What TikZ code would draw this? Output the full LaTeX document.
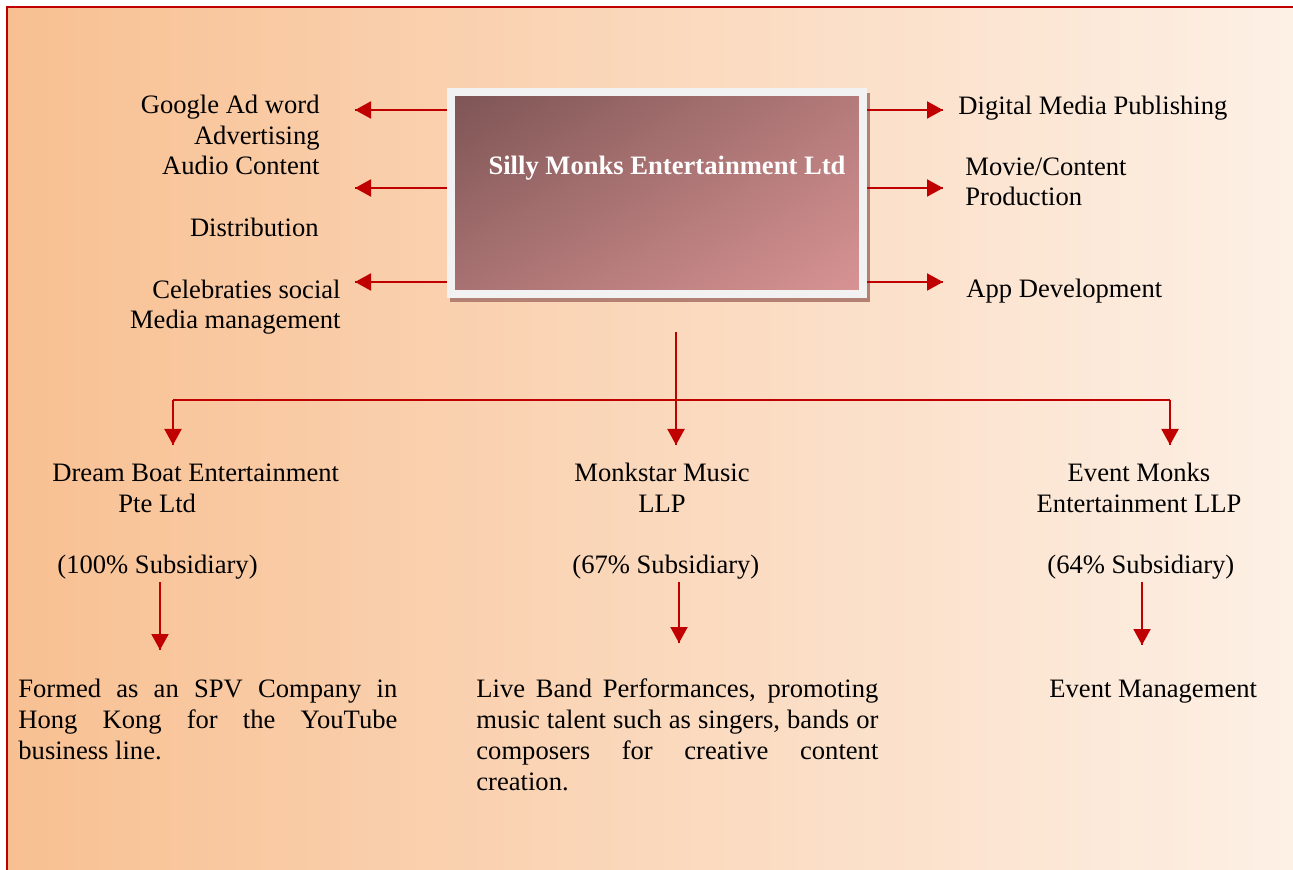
\documentclass[tikz,border=0pt]{standalone}
\usepackage{fontspec}
\setmainfont{Liberation Serif}
\usetikzlibrary{arrows.meta}
\usetikzlibrary{decorations.markings}
\usetikzlibrary{shadings}
\usetikzlibrary{positioning}
\definecolor{linered}{HTML}{C00000}
\definecolor{bgleft}{HTML}{F8C092}
\definecolor{bgright}{HTML}{FDF1E7}
\definecolor{boxrim}{HTML}{F2F2F2}
\definecolor{boxshadow}{HTML}{B38074}
\definecolor{boxul}{HTML}{7D5454}
\definecolor{boxur}{HTML}{B47A7A}
\definecolor{boxll}{HTML}{A97272}
\definecolor{boxlr}{HTML}{D99494}
\tolerance=10000
\emergencystretch=4em
\hyphenpenalty=10000
\tikzset{->/.style = {decoration={markings,
                                  mark=at position 1 with {\arrow{Triangle[width=8.5pt,length=8pt]}}},
                      postaction={decorate}}}
\tikzset{
redline/.style={draw=linered, color=linered, line width=1pt},
txt/.style={inner sep=0pt, font=\fontsize{13.3}{15.3}\selectfont},
para/.style={inner sep=0pt, align=justify, anchor=base west, font=\fontsize{13.3}{15.5}\selectfont},
title/.style={inner sep=0pt, anchor=base, text=white, font=\fontsize{13.3}{15.3}\selectfont\bfseries},
mainbox/.style={draw=boxrim, line width=4pt, minimum width=206pt, minimum height=101pt, inner sep=0pt,
                upper left=boxul, upper right=boxur, lower left=boxll, lower right=boxlr},
}

\begin{document}
\begin{tikzpicture}[x=0.5pt, y=-0.5pt]
	\useasboundingbox (0,0) rectangle (1293,870);
	\clip (0,0) rectangle (1293,870);
	\fill[left color=bgleft, right color=bgright] (7,7) rectangle (1320,890);
	\draw[linered, line width=1.25pt] (7,7) rectangle (1320,890);
	\fill[boxshadow] (450,93) rectangle (870,302);
	\node[mainbox] (main) at (657,193) {};
	\node[title] (name) at (667,175) {Silly Monks Entertainment Ltd};
	\node[txt, anchor=base east, align=right] (ads) at (320,175) {Google Ad word\\Advertising\\Audio Content};
	\node[txt, anchor=base east] (dist) at (319,237) {Distribution};
	\node[txt, anchor=base east, align=right] (celeb) at (341,329) {Celebraties social\\Media management};
	\node[txt, anchor=base west] (digital) at (958,115) {Digital Media Publishing};
	\node[txt, anchor=base west, align=left] (movie) at (965,206) {Movie/Content\\Production};
	\node[txt, anchor=base west] (app) at (966,298) {App Development};
	\coordinate (l1) at (355,110);
	\coordinate (l2) at (355,188);
	\coordinate (l3) at (355,282);
	\coordinate (r1) at (943,110);
	\coordinate (r2) at (943,188);
	\coordinate (r3) at (943,282);
	\draw[redline, ->] (main.west |- l1) to (l1);
	\draw[redline, ->] (main.west |- l2) to (l2);
	\draw[redline, ->] (main.west |- l3) to (l3);
	\draw[redline, ->] (main.east |- r1) to (r1);
	\draw[redline, ->] (main.east |- r2) to (r2);
	\draw[redline, ->] (main.east |- r3) to (r3);
	\coordinate (trunk) at (676,332);
	\coordinate (bar) at (676,400);
	\coordinate (t1) at (173,445);
	\coordinate (t2) at (676,445);
	\coordinate (t3) at (1170,445);
	\draw[redline] (t1 |- bar) to (t3 |- bar);
	\draw[redline, ->] (trunk) to (t2);
	\draw[redline, ->] (t1 |- bar) to (t1);
	\draw[redline, ->] (t3 |- bar) to (t3);
	\node[txt, anchor=base west, align=left] (dream) at (52,512) {Dream Boat Entertainment\\\hspace*{33pt}Pte Ltd};
	\node[txt, anchor=base, align=center] (monk) at (662,512) {Monkstar Music\\LLP};
	\node[txt, anchor=base, align=center] (event) at (1139,512) {Event Monks\\Entertainment LLP};
	\node[txt, anchor=base west] (sub1) at (57,573) {(100\% Subsidiary)};
	\node[txt, anchor=base west] (sub2) at (572,573) {(67\% Subsidiary)};
	\node[txt, anchor=base west] (sub3) at (1047,573) {(64\% Subsidiary)};
	\coordinate (d1) at (160,582);
	\coordinate (d2) at (679,582);
	\coordinate (d3) at (1142,582);
	\coordinate (e1) at (160,650);
	\coordinate (e2) at (679,643);
	\coordinate (e3) at (1142,645);
	\draw[redline, ->] (d1) to (e1);
	\draw[redline, ->] (d2) to (e2);
	\draw[redline, ->] (d3) to (e3);
	\node[para, text width=189.5pt] (spv) at (18,697) {Formed as an SPV Company in\linebreak Hong Kong for the YouTube\linebreak business line.};
	\node[para, text width=201pt] (band) at (476,697) {Live Band Performances, promoting\linebreak music talent such as singers, bands or\linebreak composers for creative content\linebreak creation.};
	\node[txt, anchor=base west] (evm) at (1049,697) {Event Management};
\end{tikzpicture}
\end{document}
